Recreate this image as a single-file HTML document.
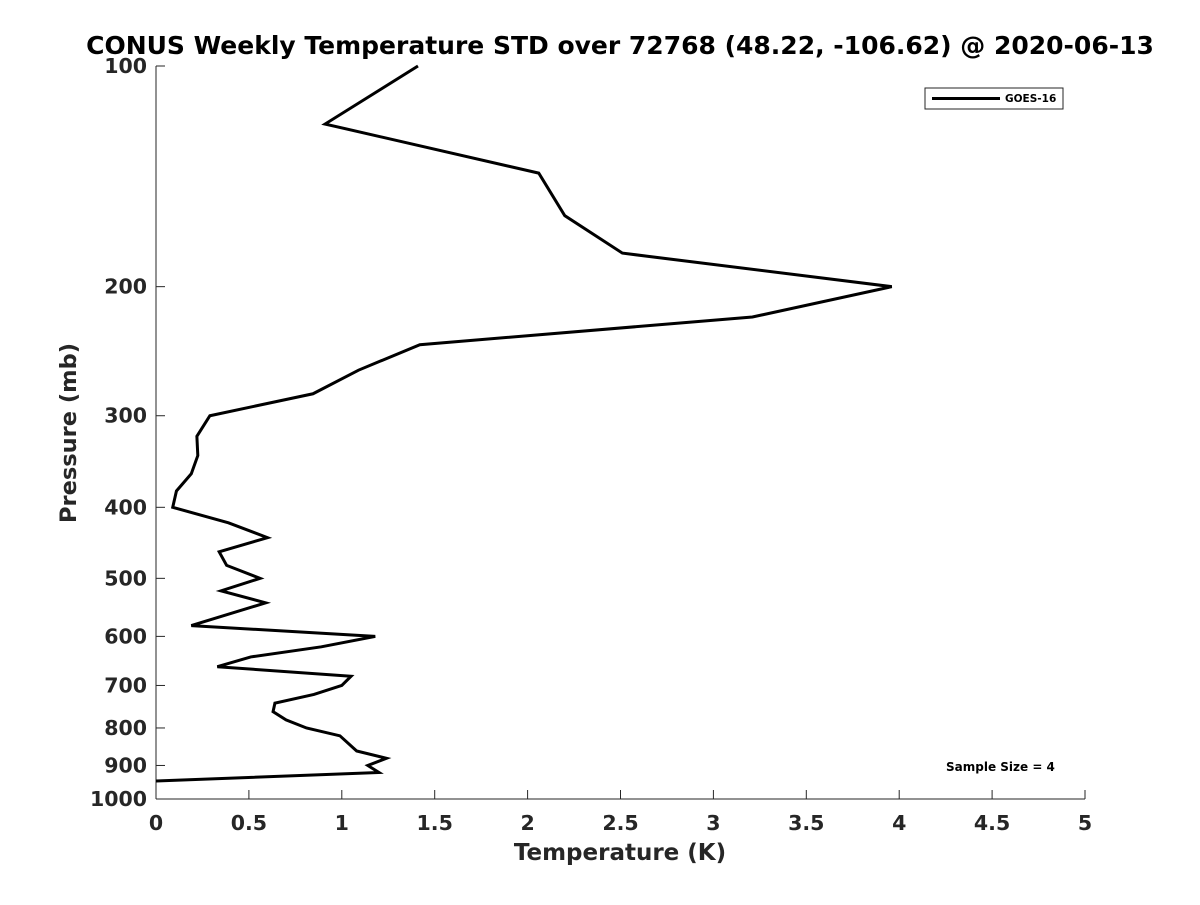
<!DOCTYPE html>
<html><head><meta charset="utf-8"><style>
body{margin:0;background:#fff;}
svg text{font-family:"DejaVu Sans","Liberation Sans",sans-serif;font-weight:bold;fill:#262626;}
</style></head><body>
<svg width="1200" height="900">
<g id="axes"></g>
<polyline id="line" fill="none" stroke="#000" stroke-width="3" stroke-linejoin="miter"/>
<text x="620" y="54" text-anchor="middle" font-size="25" style="fill:#000">CONUS Weekly Temperature STD over 72768 (48.22, -106.62) @ 2020-06-13</text>
<text x="620" y="860" text-anchor="middle" font-size="23">Temperature (K)</text>
<text transform="translate(76,433) rotate(-90)" text-anchor="middle" font-size="22.5">Pressure (mb)</text>
<g>
<rect x="925" y="88" width="138" height="21" fill="#fff" stroke="#262626" stroke-width="1"/>
<line x1="932" y1="98.5" x2="1000" y2="98.5" stroke="#000" stroke-width="3"/>
<text x="1005" y="102" font-size="10.5" style="fill:#000">GOES-16</text>
</g>
<text x="946" y="771" font-size="12" style="fill:#000">Sample Size = 4</text>
</svg>
<script>
const pressures=[100,120,140,160,180,200,220,240,260,280,300,320,340,360,380,400,420,440,460,480,500,520,540,580,600,620,640,660,680,700,720,740,760,780,800,820,860,880,900,920,945];
const stdValues=[1.41,0.91,2.06,2.20,2.51,3.96,3.21,1.42,1.09,0.845,0.29,0.22,0.225,0.19,0.11,0.09,0.39,0.60,0.34,0.38,0.56,0.35,0.59,0.19,1.18,0.89,0.51,0.33,1.05,1.00,0.85,0.64,0.63,0.70,0.81,0.99,1.08,1.24,1.14,1.20,0.0];
const xTicks=[0,0.5,1,1.5,2,2.5,3,3.5,4,4.5,5];
const yTicks=[100,200,300,400,500,600,700,800,900,1000];
const X0=156,X1=1085,Y0=66,Y1=799;
const xs=v=>X0+(v/5)*(X1-X0);
const ys=p=>Y0+Math.log10(p/100)*(Y1-Y0);
const NS="http://www.w3.org/2000/svg";
const ax=document.getElementById('axes');
function mk(t,a){const e=document.createElementNS(NS,t);for(const k in a)e.setAttribute(k,a[k]);ax.appendChild(e);return e;}
let e=mk('line',{x1:X0,y1:Y0,x2:X0,y2:Y1,stroke:'#262626','stroke-width':1});


e=mk('line',{x1:X0,y1:Y1,x2:X1,y2:Y1,stroke:'#262626','stroke-width':1});


xTicks.forEach(v=>{
 const x=xs(v);
 mk('line',{x1:x,y1:Y1,x2:x,y2:Y1-9,stroke:'#262626','stroke-width':1});
 const t=mk('text',{x:x,y:Y1+31,'text-anchor':'middle','font-size':20.5});
 t.textContent=String(v);
 
 
});
yTicks.forEach(p=>{
 const y=ys(p);
 mk('line',{x1:X0,y1:y,x2:X0+9,y2:y,stroke:'#262626','stroke-width':1});
 const t=mk('text',{x:X0-9,y:y+7,'text-anchor':'end','font-size':20.5});
 t.textContent=String(p);
 
 
});
document.getElementById('line').setAttribute('points',pressures.map((p,i)=>xs(stdValues[i])+','+ys(p)).join(' '));
</script>
</body></html>
